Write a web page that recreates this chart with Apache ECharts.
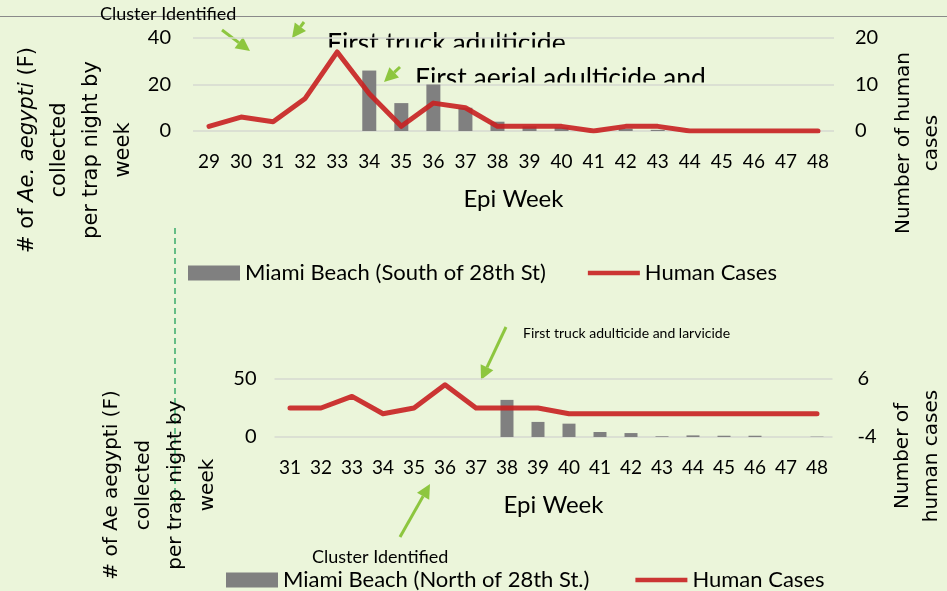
<!DOCTYPE html>
<html>
<head>
<meta charset="utf-8">
<script src="https://cdn.jsdelivr.net/npm/echarts@6/dist/echarts.min.js"></script>
<style>
html,body{margin:0;padding:0;background:#EBF5DA;}
#chart{width:947px;height:591px;}
</style>
</head>
<body>
<div id="chart"></div>
<script>
/*----------------- data -----------------*/
// Miami Beach, south of 28th St
var weeksSouth = ['29','30','31','32','33','34','35','36','37','38','39','40','41','42','43','44','45','46','47','48'];
var mosqSouth  = [0, 0, 0, 0, 0, 26, 12, 20, 10, 4, 2, 1.5, 0, 1, 0.5, 0, 0, 0, 0, 0];
var casesSouth = [1, 3, 2, 7, 17, 8, 1, 6, 5, 1, 1, 1, 0, 1, 1, 0, 0, 0, 0, 0];

// Miami Beach, north of 28th St
var weeksNorth = ['31','32','33','34','35','36','37','38','39','40','41','42','43','44','45','46','47','48'];
var mosqNorth  = [0, 0, 0, 0, 0, 0, 0, 32, 13, 11.5, 4.3, 3.4, 0.6, 1.4, 1.1, 1.1, 0, 0.3];
var casesNorth = [1, 1, 3, 0, 1, 5, 1, 1, 1, 0, 0, 0, 0, 0, 0, 0, 0, 0];

var nameSouth = 'Miami Beach (South of 28th St)';
var nameNorth = 'Miami Beach (North of 28th St.)';
var nameCases = 'Human Cases';

/*----------------- styles -----------------*/
var calibri = 'Lato, "Liberation Sans", sans-serif';
var titleFont = '"DejaVu Sans", Verdana, sans-serif';
var gridCol = '#D6D9D0';
var barCol = '#808080';
var lineCol = 'rgba(200,32,32,0.9)';
var arrowCol = '#8DC63F';
var linePath = 'path://M0,0L60,0L60,5L0,5Z';

function arrow(x1, y1, x2, y2){
    var a = Math.atan2(y2 - y1, x2 - x1);
    var len = 14, hw = 7;
    var bx = x2 - len * Math.cos(a), by = y2 - len * Math.sin(a);
    return {
        type: 'group',
        children: [
            {type: 'line', shape: {x1: x1, y1: y1, x2: bx, y2: by},
             style: {stroke: arrowCol, lineWidth: 3}},
            {type: 'polygon', shape: {points: [
                [x2, y2],
                [bx + hw * Math.sin(a), by - hw * Math.cos(a)],
                [bx - hw * Math.sin(a), by + hw * Math.cos(a)]]},
             style: {fill: arrowCol}}
        ]
    };
}

function yTitle(x, y, txt, size, lh, rich){
    return {
        type: 'text', x: x, y: y, rotation: Math.PI / 2,
        style: {
            text: txt, fontSize: size, fontFamily: titleFont, fill: '#000',
            align: 'center', verticalAlign: 'middle', lineHeight: lh,
            rich: rich || {}
        }
    };
}

var myChart = echarts.init(document.getElementById('chart'));

var yLab = {color: '#000', fontSize: 20, fontFamily: calibri};

var option = {
    backgroundColor: '#EBF5DA',
    animation: false,
    grid: [
        {left: 193, right: 113, top: 38, height: 93},
        {left: 274.5, right: 114.5, top: 379, height: 58}
    ],
    xAxis: [
        {gridIndex: 0, type: 'category', data: weeksSouth,
         axisLine: {show: false}, axisTick: {show: false},
         axisLabel: {color: '#000', fontSize: 19, fontFamily: calibri, margin: 21, interval: 0},
         name: 'Epi Week', nameLocation: 'middle', nameGap: 56,
         nameTextStyle: {color: '#000', fontSize: 24, fontFamily: calibri}},
        {gridIndex: 1, type: 'category', data: weeksNorth,
         axisLine: {show: false}, axisTick: {show: false},
         axisLabel: {color: '#000', fontSize: 19, fontFamily: calibri, margin: 21, interval: 0},
         name: 'Epi Week', nameLocation: 'middle', nameGap: 56,
         nameTextStyle: {color: '#000', fontSize: 24, fontFamily: calibri}}
    ],
    yAxis: [
        {gridIndex: 0, type: 'value', min: 0, max: 40, interval: 20,
         axisLine: {show: false}, axisTick: {show: false},
         axisLabel: Object.assign({margin: 22}, yLab),
         splitLine: {lineStyle: {color: gridCol, width: 1.5}}},
        {gridIndex: 0, type: 'value', position: 'right', min: 0, max: 20, interval: 10,
         axisLine: {show: false}, axisTick: {show: false},
         axisLabel: Object.assign({margin: 21}, yLab),
         splitLine: {show: false}},
        {gridIndex: 1, type: 'value', min: 0, max: 50, interval: 50,
         axisLine: {show: false}, axisTick: {show: false},
         axisLabel: Object.assign({margin: 18}, yLab),
         splitLine: {lineStyle: {color: gridCol, width: 1.5}}},
        {gridIndex: 1, type: 'value', position: 'right', min: -4, max: 6, interval: 10,
         axisLine: {show: false}, axisTick: {show: false},
         axisLabel: Object.assign({margin: 25}, yLab),
         splitLine: {show: false}}
    ],
    legend: [
        {left: 188, top: 262, padding: 0, itemWidth: 52, itemHeight: 15, itemGap: 42,
         textStyle: {color: '#000', fontSize: 22, fontFamily: calibri},
         data: [{name: nameSouth, icon: 'rect'}, {name: nameCases, icon: linePath}]},
        {left: 226, top: 569, padding: 0, itemWidth: 52, itemHeight: 15, itemGap: 46,
         textStyle: {color: '#000', fontSize: 22, fontFamily: calibri},
         data: [{name: nameNorth, icon: 'rect'}, {name: nameCases, icon: linePath}]}
    ],
    series: [
        {name: nameSouth, type: 'bar', xAxisIndex: 0, yAxisIndex: 0, data: mosqSouth,
         barWidth: 14, itemStyle: {color: barCol}},
        {name: nameCases, type: 'line', xAxisIndex: 0, yAxisIndex: 1, data: casesSouth,
         showSymbol: false, symbol: 'none', itemStyle: {color: lineCol},
         lineStyle: {color: lineCol, width: 5, cap: 'round', join: 'round'}},
        {name: nameNorth, type: 'bar', xAxisIndex: 1, yAxisIndex: 2, data: mosqNorth,
         barWidth: 13, itemStyle: {color: barCol}},
        {name: nameCases, type: 'line', xAxisIndex: 1, yAxisIndex: 3, data: casesNorth,
         showSymbol: false, symbol: 'none', itemStyle: {color: lineCol},
         lineStyle: {color: lineCol, width: 5, cap: 'round', join: 'round'}}
    ],
    graphic: [
        // frame line across the top
        {type: 'line', shape: {x1: 0, y1: 16.5, x2: 947, y2: 16.5},
         style: {stroke: '#8a8a8a', lineWidth: 1.2}},
        {type: 'text', x: 100, y: 14,
         style: {text: 'Cluster Identified', fontSize: 18, fontFamily: calibri, fill: '#000',
                 verticalAlign: 'middle'}},
        // clipped annotation boxes
        {type: 'text', x: 327, y: 43, z: -2,
         style: {text: 'First truck adulticide', fontSize: 26.5, fontFamily: calibri, fill: '#000',
                 verticalAlign: 'middle'}},
        {type: 'rect', z: -1, shape: {x: 320, y: 47.5, width: 270, height: 9},
         style: {fill: '#EBF5DA'}},
        {type: 'text', x: 415, y: 78, z: -2,
         style: {text: 'First aerial adulticide and', fontSize: 26.5, fontFamily: calibri, fill: '#000',
                 verticalAlign: 'middle'}},
        {type: 'rect', z: -1, shape: {x: 410, y: 82.5, width: 330, height: 9},
         style: {fill: '#EBF5DA'}},
        arrow(222, 30, 250, 51),
        arrow(304, 22, 292, 38),
        arrow(400, 67, 384, 82),
        // lower panel notes
        {type: 'text', x: 523, y: 333,
         style: {text: 'First truck adulticide and larvicide', fontSize: 14, fontFamily: calibri, fill: '#000',
                 verticalAlign: 'middle'}},
        arrow(506, 327, 481, 380),
        {type: 'text', x: 312, y: 557,
         style: {text: 'Cluster Identified', fontSize: 18, fontFamily: calibri, fill: '#000',
                 verticalAlign: 'middle'}},
        arrow(400, 537, 430, 484),
        {type: 'line', shape: {x1: 175, y1: 228, x2: 175, y2: 502},
         style: {stroke: '#3AAA6A', lineWidth: 1.5, lineDash: [6, 4]}},
        // axis titles
        yTitle(75.5, 150, '# of {i|Ae. aegypti} (F)\ncollected\nper trap night by\nweek', 21, 32,
               {i: {fontStyle: 'italic', fontSize: 21, fontFamily: titleFont, lineHeight: 32}}),
        yTitle(918, 143, 'Number of human\ncases', 20, 28),
        yTitle(159.5, 485, '# of Ae aegypti (F)\ncollected\nper trap night by\nweek', 20, 32),
        yTitle(917.5, 456, 'Number of\nhuman cases', 20, 29)
    ]
};

myChart.setOption(option);
window.onresize = function(){
    myChart.resize();
};
</script>
</body>
</html>
